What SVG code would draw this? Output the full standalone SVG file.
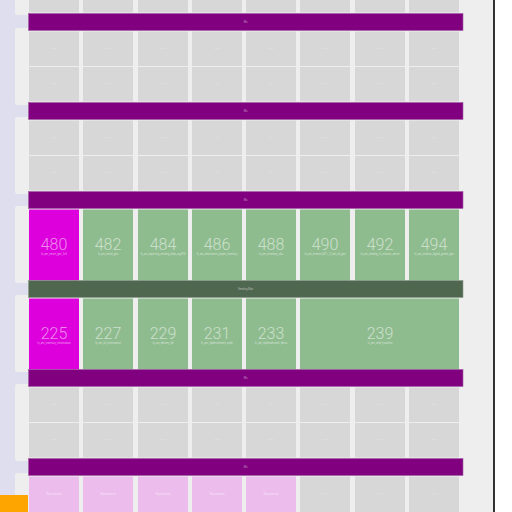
<svg xmlns="http://www.w3.org/2000/svg" width="512" height="512" viewBox="0 0 512 512">
<style>
.bg{fill:#eeeeee}
.lav{fill:#dedeee}
.pan{fill:#eeeeee}
.bar{fill:#800080;stroke:#a060a0;stroke-width:0.6}
.gbar{fill:#4f664f;stroke:#8a9a8a;stroke-width:0.6}
.c{fill:#d7d7d7}
.g{fill:#8fbc8f}
.m{fill:#dd00dd}
.p{fill:#ecbcec}
.num{font-family:Roboto,"Liberation Sans",sans-serif;font-weight:300;font-size:16px;fill:#ffffff;fill-opacity:0.55;text-anchor:middle}
.sub{font-family:Roboto,"Liberation Sans",sans-serif;font-size:2.6px;fill:#ffffff;fill-opacity:0.6;text-anchor:middle}
.tiny{font-family:Roboto,"Liberation Sans",sans-serif;font-size:2.6px;fill:#ffffff;fill-opacity:0.55;text-anchor:middle}
</style>
<rect x="0" y="0" width="512" height="512" fill="#ffffff"/>
<rect class="lav" x="0" y="0" width="494" height="512"/>
<rect class="bg" x="28" y="0" width="466" height="512"/>
<g id="panels">
<rect class="pan" x="15" y="-20" width="16" height="35" rx="2"/>
<rect class="pan" x="15" y="28" width="16" height="77" rx="2"/>
<rect class="pan" x="15" y="117" width="16" height="77" rx="2"/>
<rect class="pan" x="15" y="206" width="16" height="77" rx="2"/>
<rect class="pan" x="15" y="295" width="16" height="77" rx="2"/>
<rect class="pan" x="15" y="384" width="16" height="77" rx="2"/>
<rect class="pan" x="15" y="473" width="16" height="50" rx="2"/>
</g>
<line x1="494" y1="0" x2="494" y2="512" stroke="#000" stroke-width="1.6"/>
<rect x="0" y="495" width="28" height="17" fill="#ffa500"/>

<g id="row0">
<rect class="c" x="29" y="-22" width="50" height="34.5"/><rect class="c" x="83" y="-22" width="50" height="34.5"/><rect class="c" x="138" y="-22" width="50" height="34.5"/><rect class="c" x="192" y="-22" width="50" height="34.5"/><rect class="c" x="246" y="-22" width="50" height="34.5"/><rect class="c" x="300" y="-22" width="50" height="34.5"/><rect class="c" x="355" y="-22" width="50" height="34.5"/><rect class="c" x="409" y="-22" width="50" height="34.5"/>
</g>
<g id="bar1"><rect class="bar" x="28.5" y="13.5" width="434.5" height="17"/><text class="tiny" x="245.5" y="23">Mu</text></g>
<g id="sec1">
<g transform="translate(0,31.5)">
<rect class="c" x="29" y="0" width="50" height="34.5"/><rect class="c" x="83" y="0" width="50" height="34.5"/><rect class="c" x="138" y="0" width="50" height="34.5"/><rect class="c" x="192" y="0" width="50" height="34.5"/><rect class="c" x="246" y="0" width="50" height="34.5"/><rect class="c" x="300" y="0" width="50" height="34.5"/><rect class="c" x="355" y="0" width="50" height="34.5"/><rect class="c" x="409" y="0" width="50" height="34.5"/>
<text class="tiny" x="54" y="18">———</text><text class="tiny" x="108" y="18">———</text><text class="tiny" x="163" y="18">———</text><text class="tiny" x="217" y="18">———</text><text class="tiny" x="271" y="18">———</text><text class="tiny" x="325" y="18">———</text><text class="tiny" x="380" y="18">———</text><text class="tiny" x="434" y="18">———</text>
</g>
<g transform="translate(0,67)">
<rect class="c" x="29" y="0" width="50" height="34.5"/><rect class="c" x="83" y="0" width="50" height="34.5"/><rect class="c" x="138" y="0" width="50" height="34.5"/><rect class="c" x="192" y="0" width="50" height="34.5"/><rect class="c" x="246" y="0" width="50" height="34.5"/><rect class="c" x="300" y="0" width="50" height="34.5"/><rect class="c" x="355" y="0" width="50" height="34.5"/><rect class="c" x="409" y="0" width="50" height="34.5"/>
<text class="tiny" x="54" y="18">———</text><text class="tiny" x="108" y="18">———</text><text class="tiny" x="163" y="18">———</text><text class="tiny" x="217" y="18">———</text><text class="tiny" x="271" y="18">———</text><text class="tiny" x="325" y="18">———</text><text class="tiny" x="380" y="18">———</text><text class="tiny" x="434" y="18">———</text>
</g>
</g>
<g id="bar2"><rect class="bar" x="28.5" y="102.5" width="434.5" height="17"/><text class="tiny" x="245.5" y="112">Mu</text></g>
<g id="sec2">
<g transform="translate(0,120.5)">
<rect class="c" x="29" y="0" width="50" height="34.5"/><rect class="c" x="83" y="0" width="50" height="34.5"/><rect class="c" x="138" y="0" width="50" height="34.5"/><rect class="c" x="192" y="0" width="50" height="34.5"/><rect class="c" x="246" y="0" width="50" height="34.5"/><rect class="c" x="300" y="0" width="50" height="34.5"/><rect class="c" x="355" y="0" width="50" height="34.5"/><rect class="c" x="409" y="0" width="50" height="34.5"/>
<text class="tiny" x="54" y="18">———</text><text class="tiny" x="108" y="18">———</text><text class="tiny" x="163" y="18">———</text><text class="tiny" x="217" y="18">———</text><text class="tiny" x="271" y="18">———</text><text class="tiny" x="325" y="18">———</text><text class="tiny" x="380" y="18">———</text><text class="tiny" x="434" y="18">———</text>
</g>
<g transform="translate(0,156)">
<rect class="c" x="29" y="0" width="50" height="34.5"/><rect class="c" x="83" y="0" width="50" height="34.5"/><rect class="c" x="138" y="0" width="50" height="34.5"/><rect class="c" x="192" y="0" width="50" height="34.5"/><rect class="c" x="246" y="0" width="50" height="34.5"/><rect class="c" x="300" y="0" width="50" height="34.5"/><rect class="c" x="355" y="0" width="50" height="34.5"/><rect class="c" x="409" y="0" width="50" height="34.5"/>
<text class="tiny" x="54" y="18">———</text><text class="tiny" x="108" y="18">———</text><text class="tiny" x="163" y="18">———</text><text class="tiny" x="217" y="18">———</text><text class="tiny" x="271" y="18">———</text><text class="tiny" x="325" y="18">———</text><text class="tiny" x="380" y="18">———</text><text class="tiny" x="434" y="18">———</text>
</g>
</g>
<g id="bar3"><rect class="bar" x="28.5" y="191.5" width="434.5" height="17"/><text class="tiny" x="245.5" y="201">Mu</text></g>

<g id="n480"><rect class="m" x="29" y="209.5" width="50" height="71"/><text class="num" x="54" y="249.5">480</text><text class="sub" x="54" y="255">fc_am_return_gen_3x3</text></g>
<g id="n482"><rect class="g" x="83" y="209.5" width="50" height="71"/><text class="num" x="108" y="249.5">482</text><text class="sub" x="108" y="255">fc_am_rental_gen</text></g>
<g id="n484"><rect class="g" x="138" y="209.5" width="50" height="71"/><text class="num" x="163" y="249.5">484</text><text class="sub" x="163" y="255">fc_am_reporting_vending_data_aug910</text></g>
<g id="n486"><rect class="g" x="192" y="209.5" width="50" height="71"/><text class="num" x="217" y="249.5">486</text><text class="sub" x="217" y="255">fc_am_destination_player_inventory</text></g>
<g id="n488"><rect class="g" x="246" y="209.5" width="50" height="71"/><text class="num" x="271" y="249.5">488</text><text class="sub" x="271" y="255">fc_am_inventory_sku</text></g>
<g id="n490"><rect class="g" x="300" y="209.5" width="50" height="71"/><text class="num" x="325" y="249.5">490</text><text class="sub" x="325" y="255">fc_am_inventoryDTL_2_line_val_gen</text></g>
<g id="n492"><rect class="g" x="355" y="209.5" width="50" height="71"/><text class="num" x="380" y="249.5">492</text><text class="sub" x="380" y="255">fc_am_vending_vf_rotation_server</text></g>
<g id="n494"><rect class="g" x="409" y="209.5" width="50" height="71"/><text class="num" x="434" y="249.5">494</text><text class="sub" x="434" y="255">fc_am_rotation_digital_poster_gen</text></g>

<g id="gbar"><rect class="gbar" x="28.5" y="280.5" width="434.5" height="17"/><text class="tiny" x="245.5" y="290">Vending Mac</text></g>

<g id="n225"><rect class="m" x="29" y="298.5" width="50" height="71"/><text class="num" x="54" y="338.5">225</text><text class="sub" x="54" y="344">fc_am_inventory_information</text></g>
<g id="n227"><rect class="g" x="83" y="298.5" width="50" height="71"/><text class="num" x="108" y="338.5">227</text><text class="sub" x="108" y="344">fc_am_lcf_information</text></g>
<g id="n229"><rect class="g" x="138" y="298.5" width="50" height="71"/><text class="num" x="163" y="338.5">229</text><text class="sub" x="163" y="344">fc_am_delivery_dtl</text></g>
<g id="n231"><rect class="g" x="192" y="298.5" width="50" height="71"/><text class="num" x="217" y="338.5">231</text><text class="sub" x="217" y="344">fc_am_replenishment_order</text></g>
<g id="n233"><rect class="g" x="246" y="298.5" width="50" height="71"/><text class="num" x="271" y="338.5">233</text><text class="sub" x="271" y="344">fc_am_replenishment_demo</text></g>
<g id="n239"><rect class="g" x="300" y="298.5" width="159" height="71"/><text class="num" x="380" y="338.5">239</text><text class="sub" x="380" y="344">fc_am_vend_machine</text></g>

<g id="bar5"><rect class="bar" x="28.5" y="369.5" width="434.5" height="17"/><text class="tiny" x="245.5" y="379">Mu</text></g>
<g id="sec5">
<g transform="translate(0,387.5)">
<rect class="c" x="29" y="0" width="50" height="34.5"/><rect class="c" x="83" y="0" width="50" height="34.5"/><rect class="c" x="138" y="0" width="50" height="34.5"/><rect class="c" x="192" y="0" width="50" height="34.5"/><rect class="c" x="246" y="0" width="50" height="34.5"/><rect class="c" x="300" y="0" width="50" height="34.5"/><rect class="c" x="355" y="0" width="50" height="34.5"/><rect class="c" x="409" y="0" width="50" height="34.5"/>
<text class="tiny" x="54" y="18">———</text><text class="tiny" x="108" y="18">———</text><text class="tiny" x="163" y="18">———</text><text class="tiny" x="217" y="18">———</text><text class="tiny" x="271" y="18">———</text><text class="tiny" x="325" y="18">———</text><text class="tiny" x="380" y="18">———</text><text class="tiny" x="434" y="18">———</text>
</g>
<g transform="translate(0,423)">
<rect class="c" x="29" y="0" width="50" height="34.5"/><rect class="c" x="83" y="0" width="50" height="34.5"/><rect class="c" x="138" y="0" width="50" height="34.5"/><rect class="c" x="192" y="0" width="50" height="34.5"/><rect class="c" x="246" y="0" width="50" height="34.5"/><rect class="c" x="300" y="0" width="50" height="34.5"/><rect class="c" x="355" y="0" width="50" height="34.5"/><rect class="c" x="409" y="0" width="50" height="34.5"/>
<text class="tiny" x="54" y="18">———</text><text class="tiny" x="108" y="18">———</text><text class="tiny" x="163" y="18">———</text><text class="tiny" x="217" y="18">———</text><text class="tiny" x="271" y="18">———</text><text class="tiny" x="325" y="18">———</text><text class="tiny" x="380" y="18">———</text><text class="tiny" x="434" y="18">———</text>
</g>
</g>
<g id="bar6"><rect class="bar" x="28.5" y="458.5" width="434.5" height="17"/><text class="tiny" x="245.5" y="468">Mu</text></g>
<g id="sec6" transform="translate(0,476.5)">
<rect class="p" x="29" y="0" width="50" height="40"/><rect class="p" x="83" y="0" width="50" height="40"/><rect class="p" x="138" y="0" width="50" height="40"/><rect class="p" x="192" y="0" width="50" height="40"/><rect class="p" x="246" y="0" width="50" height="40"/><rect class="c" x="300" y="0" width="50" height="40"/><rect class="c" x="355" y="0" width="50" height="40"/><rect class="c" x="409" y="0" width="50" height="40"/>
<text class="tiny" x="54" y="18">Reprocessed</text><text class="tiny" x="108" y="18">Reprocessed</text><text class="tiny" x="163" y="18">Reprocessed</text><text class="tiny" x="217" y="18">Reprocessed</text><text class="tiny" x="271" y="18">Reprocessed</text><text class="tiny" x="325" y="18">———</text><text class="tiny" x="380" y="18">———</text><text class="tiny" x="434" y="18">———</text>
</g>
</svg>
